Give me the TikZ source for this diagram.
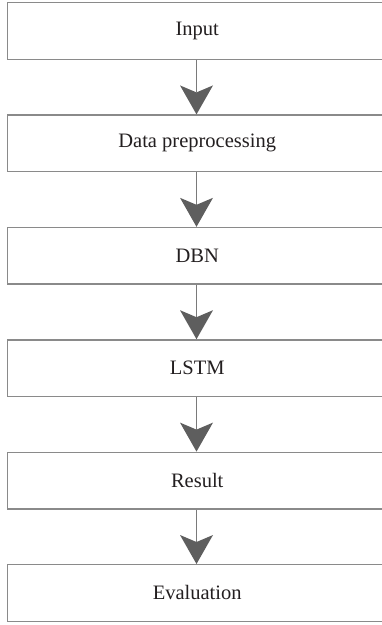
\documentclass[tikz,border=0pt]{standalone}
\usepackage{fontspec}
\setmainfont{Liberation Serif}
\usetikzlibrary{arrows.meta}
\definecolor{boxgray}{HTML}{8A8A8A}
\definecolor{linegray}{HTML}{7A7A7A}
\definecolor{headgray}{HTML}{5E5E5E}
\definecolor{txt}{HTML}{231F20}
\begin{document}
\begin{tikzpicture}[x=1pt,y=-1pt,
  stagebox/.style={draw=boxgray, line width=1.4pt, minimum width=379pt, minimum height=56.5pt,
    anchor=north west, inner sep=0pt, font=\fontsize{20.5}{24}\selectfont, text=txt},
  flow/.style={draw=linegray, line width=1.2pt,
    -{Stealth[length=29pt, width=33pt, inset=7pt, color=headgray, fill=headgray, line width=0pt]}}]
\useasboundingbox (0,0) rectangle (382,625);
\node[stagebox] (b1) at (7,2) {Input};
\node[stagebox] (b2) at (7,114.4) {Data preprocessing};
\node[stagebox] (b3) at (7,226.8) {DBN};
\node[stagebox] (b4) at (7,339.2) {LSTM};
\node[stagebox] (b5) at (7,451.6) {Result};
\node[stagebox] (b6) at (7,564) {Evaluation};
\foreach \a/\b in {b1/b2,b2/b3,b3/b4,b4/b5,b5/b6}{
  \draw[flow] (\a.south -| 196.5,0) -- (\b.north -| 196.5,0);
}
\end{tikzpicture}
\end{document}
